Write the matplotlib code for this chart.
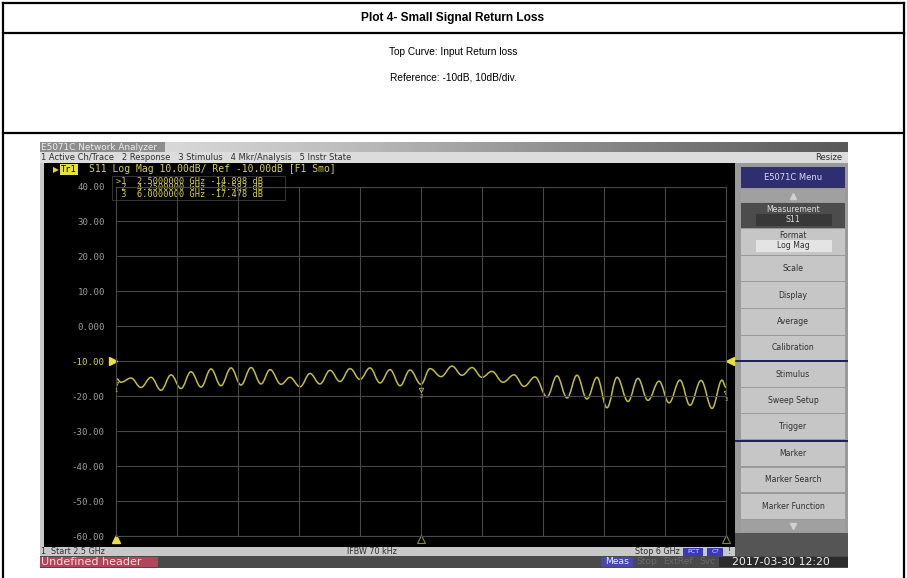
import numpy as np
import matplotlib
matplotlib.use('Agg')
import matplotlib.pyplot as plt
from matplotlib.patches import Rectangle, PathPatch
from matplotlib.path import Path
from matplotlib import transforms

# S11 trace (GHz, dB) at the ripple peaks / troughs
freq_ghz = [2.500, 2.529, 2.586, 2.643, 2.701, 2.758, 2.816, 2.873, 2.930, 2.988,
            3.045, 3.102, 3.160, 3.217, 3.275, 3.332, 3.384, 3.447, 3.498, 3.556,
            3.613, 3.670, 3.728, 3.785, 3.843, 3.900, 3.957, 4.015, 4.072, 4.130,
            4.187, 4.250, 4.302, 4.365, 4.428, 4.485, 4.543, 4.600, 4.657, 4.720,
            4.784, 4.841, 4.904, 4.973, 5.030, 5.088, 5.145, 5.202, 5.260, 5.317,
            5.375, 5.438, 5.495, 5.552, 5.616, 5.673, 5.736, 5.793, 5.857, 5.920,
            5.977, 6.000]
s11_db = [-14.9, -16.0, -14.8, -17.5, -14.6, -18.3, -13.9, -17.8, -13.0, -17.4,
          -12.2, -17.0, -11.9, -16.8, -11.8, -16.5, -12.4, -16.6, -14.6, -17.3,
          -13.5, -16.5, -12.6, -15.8, -12.1, -15.2, -11.9, -16.2, -12.4, -17.0,
          -12.5, -16.6, -12.1, -14.4, -11.4, -14.0, -11.8, -14.6, -12.9, -16.0,
          -13.9, -17.2, -14.5, -20.2, -14.2, -20.5, -14.0, -20.8, -14.6, -23.3,
          -14.6, -21.5, -14.9, -21.2, -15.7, -21.9, -15.4, -22.6, -15.5, -23.5,
          -15.4, -17.5]

marker_freq = [2.5, 4.25, 6.0]
marker_db = [-14.898, -16.583, -17.478]
ref_level = -10.0
y_ticks = [-60, -50, -40, -30, -20, -10, 0, 10, 20, 30, 40]
y_labels = ['-60.00', '-50.00', '-40.00', '-30.00', '-20.00', '-10.00',
            '0.000', '10.00', '20.00', '30.00', '40.00']

menu_items = ['Scale', 'Display', 'Average', 'Calibration', 'Stimulus',
              'Sweep Setup', 'Trigger', 'Marker', 'Marker Search', 'Marker Function']

W, H = 907, 578
fig = plt.figure(figsize=(W / 100, H / 100), dpi=100)
fig.patch.set_facecolor('white')

# pixel canvas for the table and the analyzer GUI
ax0 = fig.add_axes([0, 0, 1, 1])
ax0.set_xlim(0, W)
ax0.set_ylim(H, 0)
ax0.axis('off')


def box(x0, y0, x1, y1, color, z=1, ec='none', lw=0):
    ax0.add_patch(Rectangle((x0, y0), x1 - x0, y1 - y0, facecolor=color,
                            edgecolor=ec, lw=lw, zorder=z))


def txt(x, y, s, size=5.8, color='#303030', ha='left', **kw):
    kw.setdefault('zorder', 3)
    ax0.text(x, y, s, fontsize=size, color=color, ha=ha, va='center', **kw)


# table frame
for seg in [((3, 904), (3, 3)), ((3, 904), (33, 33)), ((3, 904), (133, 133)),
            ((3, 3), (3, 578)), ((904, 904), (3, 578))]:
    ax0.plot(seg[0], seg[1], color='black', lw=1.6, solid_capstyle='projecting')
txt(453, 18.5, 'Plot 4- Small Signal Return Loss', size=8.6, color='black',
    ha='center', fontweight='bold', family='Liberation Sans')
txt(453, 52, 'Top Curve: Input Return loss', size=7.3, color='black',
    ha='center', family='Liberation Sans')
txt(453, 77, 'Reference: -10dB, 10dB/div.', size=7.3, color='black',
    ha='center', family='Liberation Sans')

# title bar with gradient
grad = np.linspace(0, 1, 200).reshape(1, -1)
ax0.imshow(grad, extent=(40, 848, 152, 142), cmap='Greys', vmin=-0.3, vmax=1.5,
           aspect='auto', zorder=1)
box(40, 142, 165, 152, '#8e8e8e', z=1.5)
txt(41, 147.5, 'E5071C Network Analyzer', size=6.4, color='#ececec')

# menu bar
box(40, 152, 848, 163, '#dcdcdc')
txt(41, 157.8, '1 Active Ch/Trace   2 Response   3 Stimulus   4 Mkr/Analysis   5 Instr State',
    size=6.0)
txt(842, 157.8, 'Resize', size=6.0, ha='right')

# screen area
box(40, 163, 44, 547, '#c8c8c8')
box(44, 163, 735, 547, 'black')
box(735, 163, 848, 556, '#9a9a9a')

# trace header line
txt(53, 169.5, '\u25b6', size=5.5, color='#e0d840')
ax0.text(61, 169.5, 'Tr1', fontsize=6.2, color='black', va='center', zorder=3,
         family='DejaVu Sans Mono',
         bbox=dict(boxstyle='square,pad=0.1', fc='#e8e040', ec='none'))
txt(89, 169.5, 'S11 Log Mag 10.00dB/ Ref -10.00dB [F1 Smo]', size=7.0,
    color='#d8d040', family='DejaVu Sans Mono')

# marker read-out (one text block, tight line spacing like the screen)
box(112, 176, 285, 200, 'black', z=2.5, ec='#4a4a4a', lw=0.5)
lines = []
for i in range(3):
    lead = '>' if i == 0 else ' '
    lines.append('%s%d  %.7f GHz %.3f dB' % (lead, i + 1, marker_freq[i], marker_db[i]))
txt(116, 188, '\n'.join(lines), size=6.2, color='#d8d040',
    family='DejaVu Sans Mono', linespacing=0.68)

# right-hand softkey menu
box(741, 167, 845, 188, '#2e2e70', z=2)
txt(793, 177.5, 'E5071C Menu', size=6.0, color='#dcdcff', ha='center')
box(741, 189, 845, 202, '#a0a0a0', z=2)
ax0.plot([793], [195.5], marker='^', ms=4, color='#d0d0d0', zorder=3)
box(741, 203, 845, 228, '#4c4c4c', z=2)
txt(793, 209, 'Measurement', size=5.6, color='#e0e0e0', ha='center')
box(756, 214, 832, 226, '#383838', z=2.5)
txt(793, 220, 'S11', size=5.6, color='#e0e0e0', ha='center')
box(741, 229, 845, 255, '#c6c6c6', z=2)
txt(793, 235, 'Format', size=5.6, ha='center')
box(756, 240, 832, 252, '#e4e4e4', z=2.5)
txt(793, 246, 'Log Mag', size=5.6, ha='center')
tops = [256, 282, 309, 336, 362, 388, 414, 442, 468, 494]
bots = [281, 308, 335, 360, 387, 413, 439, 466, 492, 519]
for lab, t, b in zip(menu_items, tops, bots):
    box(741, t, 845, b, '#c6c6c6', z=2)
    txt(793, (t + b) / 2, lab, size=5.6, ha='center')
box(735, 360, 848, 362, '#20205a', z=2.2)
box(735, 439.5, 848, 441.5, '#20205a', z=2.2)
box(741, 520, 845, 532, '#a0a0a0', z=2)
ax0.plot([793], [526], marker='v', ms=4, color='#d0d0d0', zorder=3)
box(735, 533, 848, 556, '#555555', z=2)

# status bars
box(40, 547, 735, 556, '#c8c8c8')
txt(41, 551.5, '1  Start 2.5 GHz', size=5.8)
txt(372, 551.5, 'IFBW 70 kHz', size=5.8, ha='center')
txt(680, 551.5, 'Stop 6 GHz', size=5.8, ha='right')
box(683, 548, 703, 555.5, '#3a3ab8', z=2)
txt(693, 551.5, 'PCT', size=4.6, color='#e0e0ff', ha='center')
box(707, 548, 723, 555.5, '#3a3ab8', z=2)
txt(715, 551.5, 'C?', size=4.6, color='#e0e0ff', ha='center')
txt(728, 551.5, '!', size=5.8)

box(40, 556, 848, 568, '#4a4a4a')
box(40, 557, 158, 567, '#b04656', z=2)
txt(41, 562, 'Undefined header', size=8.0, color='#ffd6dc')
box(601, 557, 633, 567, '#4848b0', z=2)
txt(617, 562, 'Meas', size=6.6, color='#e8e8ff', ha='center')
txt(647, 562, 'Stop', size=6.6, color='#6a6a6a', ha='center')
txt(678, 562, 'ExtRef', size=6.6, color='#6a6a6a', ha='center')
txt(707, 562, 'Svc', size=6.6, color='#6a6a6a', ha='center')
box(719, 557, 848, 567, '#2c2c2c', z=2)
txt(781, 562, '2017-03-30 12:20', size=7.8, color='#f0f0f0', ha='center')

# measurement graticule
x0p, x1p, y0p, y1p = 116, 726, 186.5, 536
ax = fig.add_axes([x0p / W, 1 - y1p / H, (x1p - x0p) / W, (y1p - y0p) / H])
ax.set_facecolor('none')
ax.set_xlim(marker_freq[0], marker_freq[-1])
ax.set_ylim(y_ticks[0], y_ticks[-1])
ax.set_xticks(np.linspace(marker_freq[0], marker_freq[-1], 11))
ax.set_yticks(y_ticks)
ax.set_yticklabels(y_labels, family='DejaVu Sans Mono')
ax.grid(True, color='#474747', lw=0.8)
ax.tick_params(axis='x', length=0, labelbottom=False)
ax.tick_params(axis='y', length=0, pad=8, labelsize=6.6, labelcolor='#9c9c9c')
for lab in ax.get_yticklabels():
    if lab.get_text() == '-10.00':
        lab.set_color('#d8d040')
for sp in ax.spines.values():
    sp.set_color('#474747')
    sp.set_linewidth(0.8)

# ripple trace drawn as a smooth curve through the read extremes
verts = [(freq_ghz[0], s11_db[0])]
codes = [Path.MOVETO]
for i in range(1, len(freq_ghz)):
    dx = freq_ghz[i] - freq_ghz[i - 1]
    verts += [(freq_ghz[i - 1] + 0.38 * dx, s11_db[i - 1]),
              (freq_ghz[i] - 0.38 * dx, s11_db[i]),
              (freq_ghz[i], s11_db[i])]
    codes += [Path.CURVE4] * 3
ax.add_patch(PathPatch(Path(verts, codes), fill=False, edgecolor='#c2bd3c', lw=1.1))

# reference level arrows
left = transforms.offset_copy(ax.transData, fig=fig, x=-3.5, y=0, units='dots')
right = transforms.offset_copy(ax.transData, fig=fig, x=4, y=0, units='dots')
ax.plot([marker_freq[0]], [ref_level], marker='>', ms=6, color='#e8e040',
        transform=left, clip_on=False)
ax.plot([marker_freq[-1]], [ref_level], marker='<', ms=6, color='#e8e040',
        transform=right, clip_on=False)

# marker symbols on the trace
for i, (f, d) in enumerate(zip(marker_freq, marker_db)):
    ax.plot([f], [d - 1.6], marker='v', ms=3.2, mfc='none', mec='#c2bd3c', mew=0.6)
    ax.text(f, d - 3.6, str(i + 1), fontsize=3.8, color='#c2bd3c', ha='center',
            va='center')

# marker position indicators on the bottom edge
low = transforms.offset_copy(ax.transData, fig=fig, x=0, y=-3, units='dots')
ax.plot([marker_freq[0]], [y_ticks[0]], marker='^', ms=5.5, color='#e8e040',
        transform=low, clip_on=False)
ax.plot(marker_freq[1:], [y_ticks[0]] * 2, ls='none', marker='^', ms=5.5,
        mfc='none', mec='#8c8a30', mew=0.8, transform=low, clip_on=False)

fig.savefig('out.png', dpi=100, facecolor='white')
